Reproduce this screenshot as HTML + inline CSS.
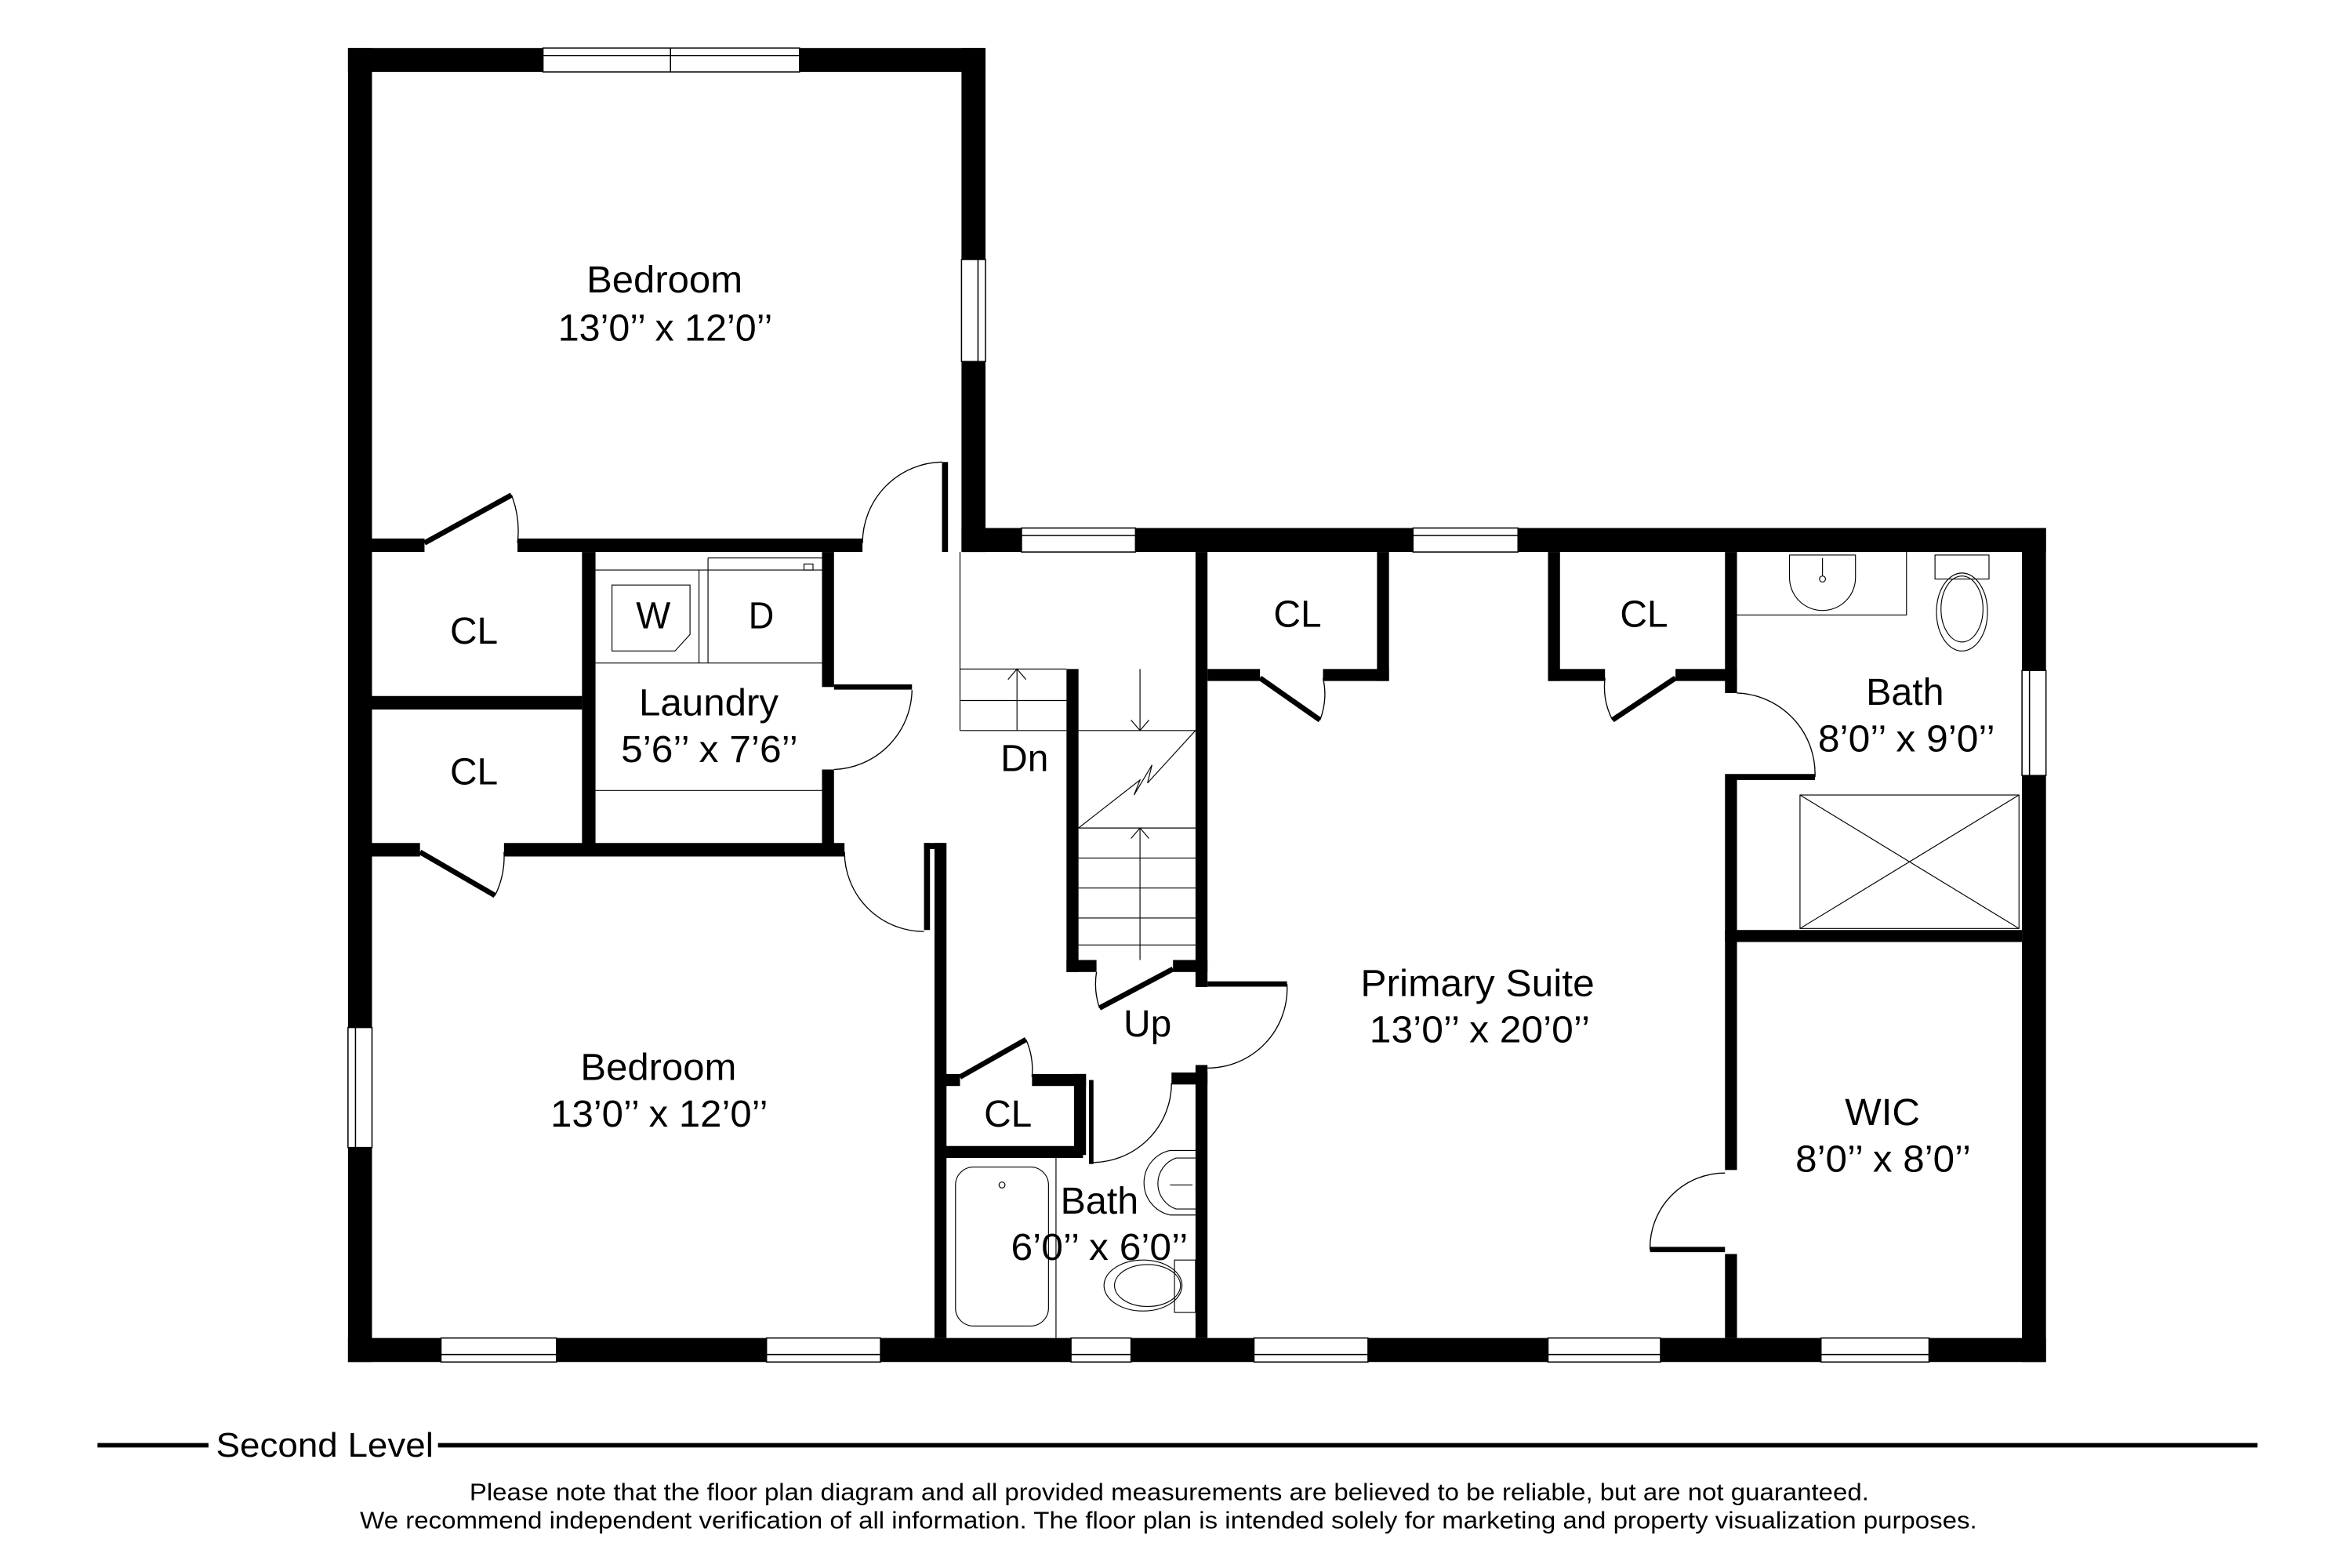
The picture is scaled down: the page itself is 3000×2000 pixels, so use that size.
<!DOCTYPE html>
<html><head><meta charset="utf-8"><style>
html,body{margin:0;padding:0;background:#fff;}
svg{display:block;}
text{font-family:"Liberation Sans",sans-serif;fill:#000;}
</style></head><body>
<svg width="3000" height="2000" viewBox="0 0 1568 1045.33" preserveAspectRatio="none" xmlns="http://www.w3.org/2000/svg">
<rect width="1568" height="1046" fill="#fff"/>
<g fill="#000">
<rect x="232" y="32" width="425" height="16"/>
<rect x="232" y="32" width="16" height="876"/>
<rect x="641" y="32" width="16" height="336"/>
<rect x="641" y="352" width="723" height="16"/>
<rect x="1348" y="352" width="16" height="556"/>
<rect x="232" y="892" width="1132" height="16"/>
<rect x="248" y="359" width="35" height="9"/>
<rect x="345" y="359" width="230" height="9"/>
<rect x="628" y="308" width="4" height="60"/>
<rect x="388" y="368" width="9" height="197"/>
<rect x="248" y="464" width="140" height="9"/>
<rect x="248" y="562" width="32" height="9"/>
<rect x="336" y="562" width="227" height="9"/>
<rect x="548" y="368" width="8" height="90"/>
<rect x="548" y="513" width="8" height="52"/>
<rect x="616" y="562" width="14" height="4"/>
<rect x="623" y="562" width="8" height="330"/>
<rect x="616" y="562" width="4" height="58"/>
<rect x="711" y="446" width="8" height="202"/>
<rect x="711" y="640" width="20" height="8"/>
<rect x="782" y="640" width="23" height="8"/>
<rect x="797" y="368" width="8" height="290"/>
<rect x="797" y="710" width="8" height="182"/>
<rect x="781" y="715" width="24" height="8"/>
<rect x="918" y="368" width="8" height="86"/>
<rect x="805" y="446" width="35" height="8"/>
<rect x="882" y="446" width="44" height="8"/>
<rect x="1032" y="368" width="8" height="86"/>
<rect x="1032" y="446" width="38" height="8"/>
<rect x="1117" y="446" width="41" height="8"/>
<rect x="1150" y="368" width="8" height="94"/>
<rect x="1150" y="516" width="8" height="264"/>
<rect x="1150" y="836" width="8" height="56"/>
<rect x="1158" y="516" width="52" height="4"/>
<rect x="1150" y="620" width="198" height="8"/>
<rect x="628" y="716" width="12" height="8"/>
<rect x="688" y="716" width="36" height="8"/>
<rect x="716" y="716" width="8" height="54"/>
<rect x="624" y="764" width="98" height="8"/>
<rect x="726" y="720" width="3" height="56"/>
</g>
<g fill="#fff" stroke="#000" stroke-width="0.8">
<rect x="362" y="32" width="171" height="16"/><line x1="362" y1="37" x2="533" y2="37"/><line x1="447" y1="32" x2="447" y2="48"/>
<rect x="641" y="173" width="16" height="68"/><line x1="652" y1="173" x2="652" y2="241"/>
<rect x="681" y="352" width="76" height="16"/><line x1="681" y1="357" x2="757" y2="357"/>
<rect x="942" y="352" width="70" height="16"/><line x1="942" y1="357" x2="1012" y2="357"/>
<rect x="1348" y="447" width="16" height="70"/><line x1="1353" y1="447" x2="1353" y2="517"/>
<rect x="232" y="685" width="16" height="80"/><line x1="237" y1="685" x2="237" y2="765"/>
<rect x="294" y="892" width="77" height="16"/><line x1="294" y1="903" x2="371" y2="903"/>
<rect x="511" y="892" width="76" height="16"/><line x1="511" y1="903" x2="587" y2="903"/>
<rect x="714" y="892" width="40" height="16"/><line x1="714" y1="903" x2="754" y2="903"/>
<rect x="836" y="892" width="76" height="16"/><line x1="836" y1="903" x2="912" y2="903"/>
<rect x="1032" y="892" width="75" height="16"/><line x1="1032" y1="903" x2="1107" y2="903"/>
<rect x="1214" y="892" width="72" height="16"/><line x1="1214" y1="903" x2="1286" y2="903"/>
</g>
<g fill="none" stroke="#000" stroke-width="0.7">
<path d="M341,330 A66,66 0 0 1 345,362"/>
<path d="M628,308 A54,54 0 0 0 575,362"/>
<path d="M608,460 A54,54 0 0 1 556,513"/>
<path d="M330,597 A58,58 0 0 0 336,568"/>
<path d="M563,568 A53,53 0 0 0 616,621"/>
<path d="M733,672 A50,50 0 0 1 731,648"/>
<path d="M858,656 A53,53 0 0 1 805,712"/>
<path d="M880,480 A48,48 0 0 0 882,452"/>
<path d="M1075,480 A48,48 0 0 1 1070,452"/>
<path d="M1158,462 A54,54 0 0 1 1210,518"/>
<path d="M1100,833 A50,50 0 0 1 1150,782"/>
<path d="M684,693 A50,50 0 0 1 688,718"/>
<path d="M728,775 A53,53 0 0 0 781,722"/>
</g>
<g stroke="#000" stroke-width="3.5">
<line x1="283" y1="362" x2="341" y2="330"/>
<line x1="280" y1="568" x2="330" y2="597"/>
<line x1="733" y1="672" x2="782" y2="646"/>
<line x1="805" y1="656" x2="858" y2="656"/>
<line x1="840" y1="452" x2="880" y2="480"/>
<line x1="1117" y1="452" x2="1075" y2="480"/>
<line x1="1158" y1="518" x2="1210" y2="518"/>
<line x1="1100" y1="833" x2="1150" y2="833"/>
<line x1="640" y1="718" x2="684" y2="693"/>
<line x1="556" y1="458" x2="608" y2="458"/>
</g>
<g fill="none" stroke="#000" stroke-width="0.6">
<line x1="640" y1="368" x2="640" y2="487"/>
<line x1="640" y1="446" x2="711" y2="446"/>
<line x1="640" y1="467" x2="711" y2="467"/>
<line x1="640" y1="487" x2="711" y2="487"/>
<line x1="719" y1="487" x2="797" y2="487"/>
<line x1="719" y1="552" x2="797" y2="552"/>
<line x1="719" y1="572" x2="797" y2="572"/>
<line x1="719" y1="592" x2="797" y2="592"/>
<line x1="719" y1="612" x2="797" y2="612"/>
<line x1="719" y1="630" x2="797" y2="630"/>
<line x1="760" y1="446" x2="760" y2="487"/>
<line x1="760" y1="552" x2="760" y2="640"/>
<line x1="678" y1="446" x2="678" y2="487"/>
<path d="M672,453 L678,446 L684,453 M754,480 L760,487 L766,480 M754,559 L760,552 L766,559"/>
<path d="M719,552 L760,520 L756,530 L768,510 L765,522 L797,487"/>
<line x1="397" y1="442" x2="548" y2="442"/>
<line x1="397" y1="527" x2="548" y2="527"/>
<line x1="397" y1="380" x2="548" y2="380"/>
<line x1="472" y1="372" x2="548" y2="372"/>
<line x1="466" y1="380" x2="466" y2="442"/>
<line x1="472" y1="372" x2="472" y2="442"/>
<path d="M408,390 L460,390 L460,423 L450,434 L408,434 Z"/>
<rect x="536" y="376" width="6" height="4"/>
<path d="M1158,410 L1271,410 L1271,368"/>
<path d="M1193,370 L1237,370 L1237,385 A22,22 0 0 1 1193,385 Z"/>
<circle cx="1215" cy="386" r="2"/><line x1="1215" y1="372" x2="1215" y2="384"/>
<path d="M1290,370 L1326,370 L1326,386 L1290,386 Z"/>
<ellipse cx="1308" cy="408" rx="17" ry="26"/>
<ellipse cx="1308" cy="406" rx="14" ry="22"/>
<rect x="1200" y="530" width="146" height="89"/>
<line x1="1200" y1="530" x2="1346" y2="619"/>
<line x1="1346" y1="530" x2="1200" y2="619"/>
<line x1="704" y1="772" x2="704" y2="892"/>
<rect x="637" y="778" width="62" height="106" rx="12"/>
<circle cx="668" cy="790" r="2"/>
<path d="M797,767 L780,767 A22,22 0 0 0 780,810 L797,810"/>
<path d="M797,772 L784,772 A18,18 0 0 0 784,806 L797,806"/>
<line x1="780" y1="790" x2="795" y2="790"/>
<path d="M783,840 L797,840 L797,875 L783,875 Z"/>
<ellipse cx="762" cy="857" rx="26" ry="17"/>
<ellipse cx="765" cy="857" rx="22" ry="14"/>
</g>
<g font-size="25" lengthAdjust="spacingAndGlyphs">
<text x="391" y="195" textLength="104" lengthAdjust="spacingAndGlyphs">Bedroom</text>
<text x="372" y="227" textLength="143" lengthAdjust="spacingAndGlyphs">13’0’’ x 12’0’’</text>
<text x="300" y="429" textLength="32" lengthAdjust="spacingAndGlyphs">CL</text>
<text x="300" y="523" textLength="32" lengthAdjust="spacingAndGlyphs">CL</text>
<text x="424" y="419" textLength="23" lengthAdjust="spacingAndGlyphs">W</text>
<text x="499" y="419" textLength="17" lengthAdjust="spacingAndGlyphs">D</text>
<text x="426" y="477" textLength="93" lengthAdjust="spacingAndGlyphs">Laundry</text>
<text x="414" y="508" textLength="118" lengthAdjust="spacingAndGlyphs">5’6’’ x 7’6’’</text>
<text x="667" y="514" textLength="32" lengthAdjust="spacingAndGlyphs">Dn</text>
<text x="849" y="418" textLength="32" lengthAdjust="spacingAndGlyphs">CL</text>
<text x="1080" y="418" textLength="32" lengthAdjust="spacingAndGlyphs">CL</text>
<text x="1244" y="470" textLength="52" lengthAdjust="spacingAndGlyphs">Bath</text>
<text x="1212" y="501" textLength="118" lengthAdjust="spacingAndGlyphs">8’0’’ x 9’0’’</text>
<text x="907" y="664" textLength="156" lengthAdjust="spacingAndGlyphs">Primary Suite</text>
<text x="913" y="695" textLength="147" lengthAdjust="spacingAndGlyphs">13’0’’ x 20’0’’</text>
<text x="749" y="691" textLength="32" lengthAdjust="spacingAndGlyphs">Up</text>
<text x="387" y="720" textLength="104" lengthAdjust="spacingAndGlyphs">Bedroom</text>
<text x="367" y="751" textLength="145" lengthAdjust="spacingAndGlyphs">13’0’’ x 12’0’’</text>
<text x="656" y="751" textLength="32" lengthAdjust="spacingAndGlyphs">CL</text>
<text x="707" y="809" textLength="52" lengthAdjust="spacingAndGlyphs">Bath</text>
<text x="674" y="840" textLength="118" lengthAdjust="spacingAndGlyphs">6’0’’ x 6’0’’</text>
<text x="1230" y="750" textLength="50" lengthAdjust="spacingAndGlyphs">WIC</text>
<text x="1197" y="781" textLength="117" lengthAdjust="spacingAndGlyphs">8’0’’ x 8’0’’</text>
</g>
<rect x="65" y="962" width="74" height="3"/>
<rect x="292" y="962" width="1213" height="3"/>
<text x="144" y="971" font-size="23" textLength="145" lengthAdjust="spacingAndGlyphs">Second Level</text>
<text x="313" y="1000" font-size="16" textLength="933" lengthAdjust="spacingAndGlyphs">Please note that the floor plan diagram and all provided measurements are believed to be reliable, but are not guaranteed.</text>
<text x="240" y="1019" font-size="16" textLength="1078" lengthAdjust="spacingAndGlyphs">We recommend independent verification of all information. The floor plan is intended solely for marketing and property visualization purposes.</text>
</svg>
</body></html>
